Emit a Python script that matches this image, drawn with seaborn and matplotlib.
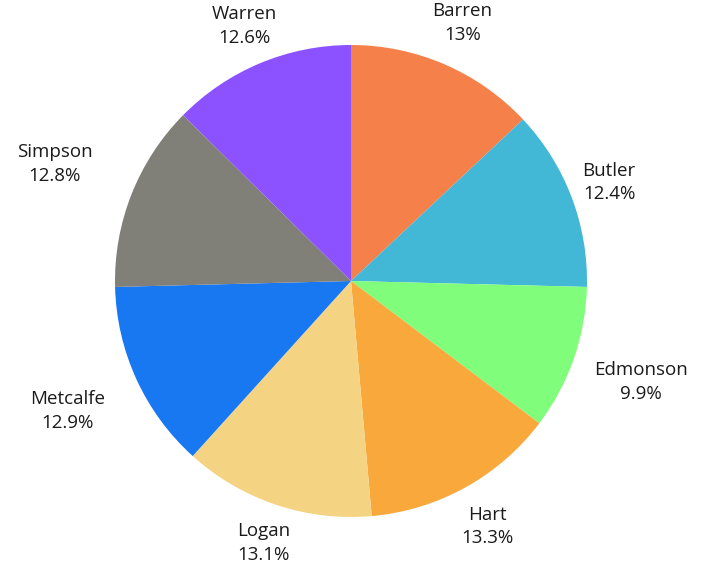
import numpy as np
import matplotlib
matplotlib.use('Agg')
import matplotlib.pyplot as plt
import seaborn as sns

# data
counties = ['Barren', 'Butler', 'Edmonson', 'Hart', 'Logan', 'Metcalfe', 'Simpson', 'Warren']
shares = [13.0, 12.4, 9.9, 13.3, 13.1, 12.9, 12.8, 12.6]
pct_labels = ['13%', '12.4%', '9.9%', '13.3%', '13.1%', '12.9%', '12.8%', '12.6%']
colors = ['#F5804A', '#42B8D6', '#80FE7B', '#F9A83B', '#F4D483', '#1878F2', '#807F78', '#8C52FF']

# label distance from centre (in radii), per slice
label_dist = [1.19, 1.17, 1.30, 1.19, 1.17, 1.32, 1.35, 1.17]

sns.set_theme(style='white')
plt.rcParams['font.family'] = ['Open Sans', 'DejaVu Sans']

fig = plt.figure(figsize=(7.22, 5.69), dpi=100)
cx, cy, r = 351, 569 - 281, 236
ax = fig.add_axes([(cx - r) / 722, (cy - r) / 569, 2 * r / 722, 2 * r / 569])

wedges, texts = ax.pie(shares, colors=colors, startangle=90, counterclock=False,
                       labels=[f'{c}\n{p}' for c, p in zip(counties, pct_labels)],
                       labeldistance=1.2, wedgeprops=dict(linewidth=0),
                       textprops=dict(fontsize=13.5, color='#1a1a1a'))

for w, t, d in zip(wedges, texts, label_dist):
    ang = np.deg2rad((w.theta1 + w.theta2) / 2)
    t.set_position((d * np.cos(ang), d * np.sin(ang)))
    t.set_ha('center')
    t.set_va('center')
    t.set_multialignment('center')
    t.set_linespacing(1.4)

ax.set_xlim(-1, 1)
ax.set_ylim(-1, 1)
ax.set_aspect('equal')
ax.axis('off')

fig.savefig('out.png', dpi=100)
